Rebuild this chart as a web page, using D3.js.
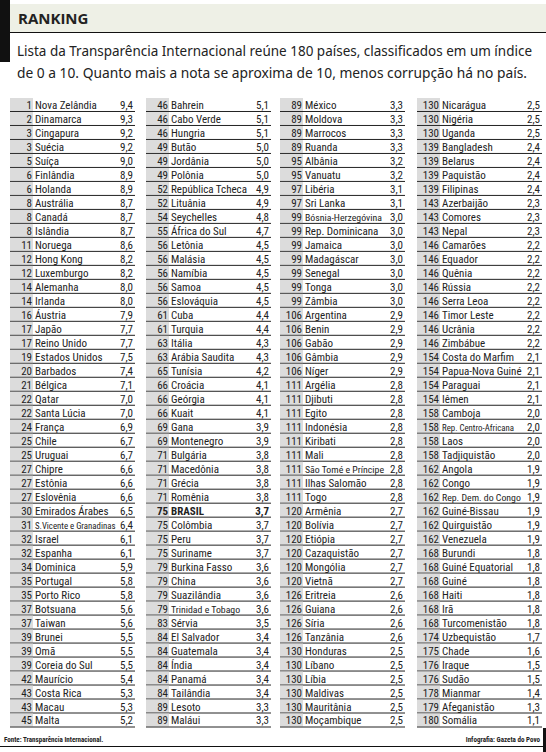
<!DOCTYPE html>
<html><head><meta charset="utf-8">
<script src="https://cdn.jsdelivr.net/npm/d3@7"></script>
<style>body{margin:0;background:#fff}svg{display:block}</style>
</head><body>
<script>
const ranks=[1,2,3,3,5,6,6,8,8,8,11,12,12,14,14,16,17,17,19,20,21,22,22,24,25,25,27,27,27,30,31,32,32,34,35,35,37,37,39,39,39,42,43,43,45,
46,46,46,49,49,49,52,52,54,55,56,56,56,56,56,61,61,63,63,65,66,66,66,69,69,71,71,71,71,75,75,75,75,79,79,79,79,83,84,84,84,84,84,89,89,
89,89,89,89,95,95,97,97,99,99,99,99,99,99,99,106,106,106,106,106,111,111,111,111,111,111,111,111,111,120,120,120,120,120,120,126,126,126,126,130,130,130,130,130,130,
130,130,130,139,139,139,139,143,143,143,146,146,146,146,146,146,146,146,154,154,154,154,158,158,158,158,162,162,162,162,162,162,168,168,168,168,168,168,174,175,176,176,178,179,180];
const countries=["Nova Zelândia","Dinamarca","Cingapura","Suécia","Suíça","Finlândia","Holanda","Austrália","Canadá","Islândia","Noruega","Hong Kong","Luxemburgo","Alemanha","Irlanda","Áustria","Japão","Reino Unido","Estados Unidos","Barbados","Bélgica","Qatar","Santa Lúcia","França","Chile","Uruguai","Chipre","Estônia","Eslovênia","Emirados Árabes","S.Vicente e Granadinas","Israel","Espanha","Dominica","Portugal","Porto Rico","Botsuana","Taiwan","Brunei","Omã","Coreia do Sul","Maurício","Costa Rica","Macau","Malta",
"Bahrein","Cabo Verde","Hungria","Butão","Jordânia","Polônia","República Tcheca","Lituânia","Seychelles","África do Sul","Letônia","Malásia","Namíbia","Samoa","Eslováquia","Cuba","Turquia","Itália","Arábia Saudita","Tunísia","Croácia","Geórgia","Kuait","Gana","Montenegro","Bulgária","Macedônia","Grécia","Romênia","BRASIL","Colômbia","Peru","Suriname","Burkina Fasso","China","Suazilândia","Trinidad e Tobago","Sérvia","El Salvador","Guatemala","Índia","Panamá","Tailândia","Lesoto","Maláui",
"México","Moldova","Marrocos","Ruanda","Albânia","Vanuatu","Libéria","Sri Lanka","Bósnia-Herzegóvina","Rep. Dominicana","Jamaica","Madagáscar","Senegal","Tonga","Zâmbia","Argentina","Benin","Gabão","Gâmbia","Níger","Argélia","Djibuti","Egito","Indonésia","Kiribati","Mali","São Tomé e Príncipe","Ilhas Salomão","Togo","Armênia","Bolívia","Etiópia","Cazaquistão","Mongólia","Vietnã","Eritreia","Guiana","Síria","Tanzânia","Honduras","Líbano","Líbia","Maldivas","Mauritânia","Moçambique",
"Nicarágua","Nigéria","Uganda","Bangladesh","Belarus","Paquistão","Filipinas","Azerbaijão","Comores","Nepal","Camarões","Equador","Quênia","Rússia","Serra Leoa","Timor Leste","Ucrânia","Zimbábue","Costa do Marfim","Papua-Nova Guiné","Paraguai","Iêmen","Camboja","Rep. Centro-Africana","Laos","Tadjiquistão","Angola","Congo","Rep. Dem. do Congo","Guiné-Bissau","Quirguistão","Venezuela","Burundi","Guiné Equatorial","Guiné","Haiti","Irã","Turcomenistão","Uzbequistão","Chade","Iraque","Sudão","Mianmar","Afeganistão","Somália"];
const scores=[9.4,9.3,9.2,9.2,9.0,8.9,8.9,8.7,8.7,8.7,8.6,8.2,8.2,8.0,8.0,7.9,7.7,7.7,7.5,7.4,7.1,7.0,7.0,6.9,6.7,6.7,6.6,6.6,6.6,6.5,6.4,6.1,6.1,5.9,5.8,5.8,5.6,5.6,5.5,5.5,5.5,5.4,5.3,5.3,5.2,
5.1,5.1,5.1,5.0,5.0,5.0,4.9,4.9,4.8,4.7,4.5,4.5,4.5,4.5,4.5,4.4,4.4,4.3,4.3,4.2,4.1,4.1,4.1,3.9,3.9,3.8,3.8,3.8,3.8,3.7,3.7,3.7,3.7,3.6,3.6,3.6,3.6,3.5,3.4,3.4,3.4,3.4,3.4,3.3,3.3,
3.3,3.3,3.3,3.3,3.2,3.2,3.1,3.1,3.0,3.0,3.0,3.0,3.0,3.0,3.0,2.9,2.9,2.9,2.9,2.9,2.8,2.8,2.8,2.8,2.8,2.8,2.8,2.8,2.8,2.7,2.7,2.7,2.7,2.7,2.7,2.6,2.6,2.6,2.6,2.5,2.5,2.5,2.5,2.5,2.5,
2.5,2.5,2.5,2.4,2.4,2.4,2.4,2.3,2.3,2.3,2.2,2.2,2.2,2.2,2.2,2.2,2.2,2.2,2.1,2.1,2.1,2.1,2.0,2.0,2.0,2.0,1.9,1.9,1.9,1.9,1.9,1.9,1.8,1.8,1.8,1.8,1.8,1.8,1.7,1.6,1.5,1.5,1.4,1.3,1.1];
const highlight="BRASIL";

const W=546,H=752;
const svg=d3.select("body").append("svg").attr("width",W).attr("height",H);
const F="'Liberation Sans Narrow','Roboto Condensed','DejaVu Sans Condensed',sans-serif";

svg.append("rect").attr("x",10).attr("y",4).attr("width",536).attr("height",28).attr("fill","#eef0e6");
svg.append("rect").attr("x",0).attr("y",0).attr("width",10).attr("height",62).attr("fill","#111");
svg.append("line").attr("x1",10).attr("x2",546).attr("y1",32.5).attr("y2",32.5).attr("stroke","#111").attr("stroke-width",1);
svg.append("text").attr("x",18).attr("y",24).text("RANKING").attr("font-family","'Open Sans',sans-serif").attr("font-weight",700).attr("font-size",15).attr("fill","#222");
const desc=["Lista da Transparência Internacional reúne 180 países, classificados em um índice","de 0 a 10. Quanto mais a nota se aproxima de 10, menos corrupção há no país."];
svg.selectAll("text.d").data(desc).join("text").attr("class","d").attr("x",17).attr("y",(d,i)=>56+i*22).text(d=>d)
 .attr("font-family","'Noto Sans',sans-serif").attr("font-size",13.6).attr("fill","#222").attr("textLength",(d,i)=>i?510:515).attr("lengthAdjust","spacingAndGlyphs");

const perCol=45;
const colX=d3.scaleOrdinal().domain([0,1,2,3]).range([10,146,280,417]);
const colW=125;
const y=d3.scaleBand().domain(d3.range(perCol)).range([98,727.5]).padding(0);
const rows=countries.map((c,i)=>({c,r:ranks[i],s:scores[i],col:Math.floor(i/perCol),row:i%perCol}));
const g=svg.selectAll("g.row").data(rows).join("g").attr("class","row")
 .attr("transform",d=>`translate(${colX(d.col)},${y(d.row)})`);
const bh=y.bandwidth();
g.append("rect").attr("x",0).attr("y",0).attr("width",23).attr("height",bh-1).attr("fill","#dcdcdc");
g.append("line").attr("x1",0).attr("x2",colW).attr("y1",bh-0.5).attr("y2",bh-0.5).attr("stroke","#222").attr("stroke-width",1);
const fw=d=>d.c===highlight?700:400;
g.append("text").attr("x",22).attr("y",bh-3).attr("text-anchor","end").text(d=>d.r)
 .attr("font-family",F).attr("font-size",11).attr("font-weight",fw).attr("fill","#222");
g.append("text").attr("x",25).attr("y",bh-3).text(d=>d.c)
 .attr("font-family",F).attr("font-weight",fw).attr("fill","#222")
 .attr("font-size",d=>d.c.length>19?8.8:d.c.length>16?9.8:11);
g.append("text").attr("x",colW-2).attr("y",bh-3).attr("text-anchor","end").text(d=>d3.format(".1f")(d.s).replace(".",","))
 .attr("font-family",F).attr("font-size",11).attr("font-weight",fw).attr("fill","#222");

svg.append("text").attr("x",4).attr("y",742).text("Fonte: Transparência Internacional.").attr("font-family",F).attr("font-size",7).attr("font-weight",700).attr("fill","#222");
svg.append("text").attr("x",540).attr("y",742).attr("text-anchor","end").text("Infografia: Gazeta do Povo").attr("font-family",F).attr("font-size",7).attr("font-weight",700).attr("fill","#222");
svg.append("line").attr("x1",0).attr("x2",546).attr("y1",746.5).attr("y2",746.5).attr("stroke","#111").attr("stroke-width",1);
svg.append("rect").attr("x",543).attr("y",728).attr("width",3).attr("height",24).attr("fill","#111");
</script>
</body></html>
